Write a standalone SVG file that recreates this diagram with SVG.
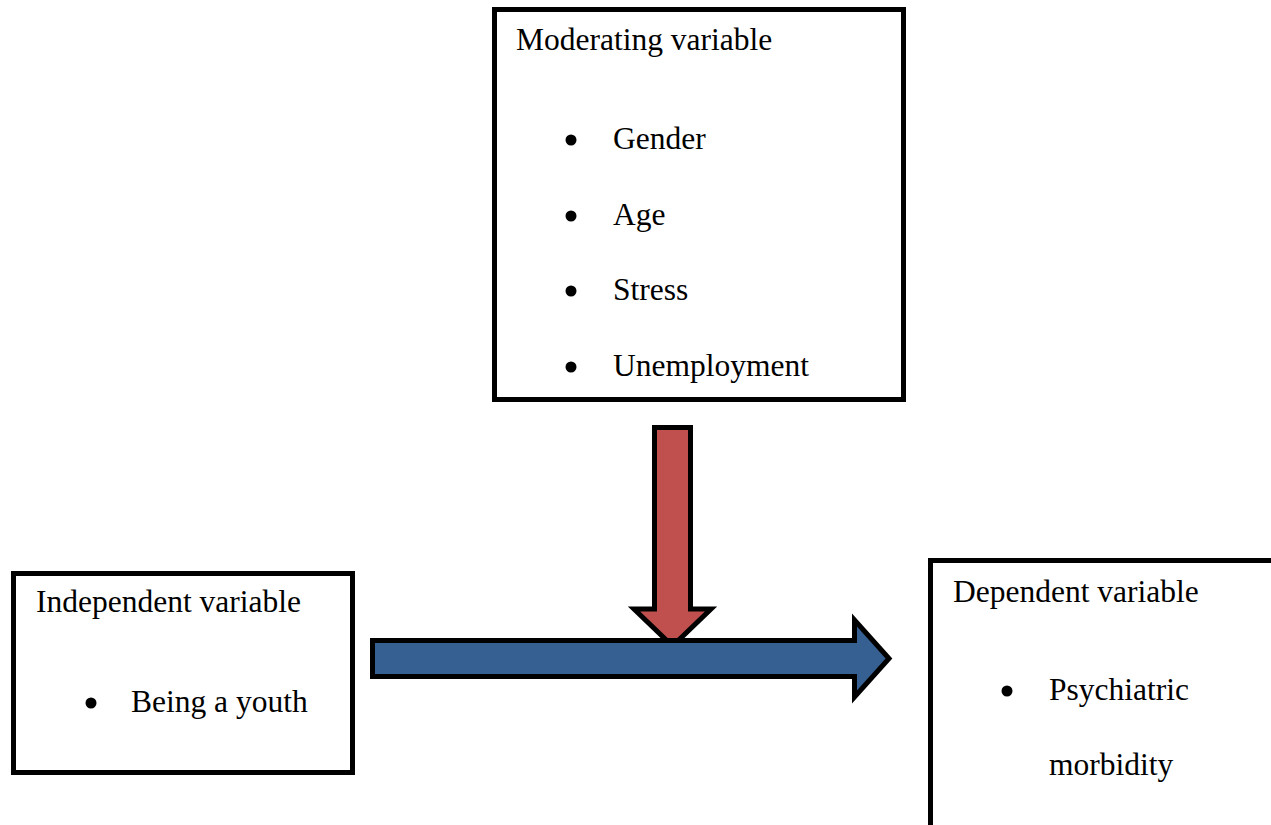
<svg xmlns="http://www.w3.org/2000/svg" width="1271" height="825" viewBox="0 0 1271 825">
<style>
.box{fill:#ffffff;stroke:#000000;stroke-width:5}
.t{font-family:"Liberation Serif","Times New Roman",serif;font-size:31.5px;fill:#000000}
.dot{fill:#000000}
.arr{stroke:#000000;stroke-width:5;stroke-linejoin:miter}
</style>
<rect width="1271" height="825" fill="#ffffff"/>
<g id="moderating">
<rect class="box" x="494.5" y="9.5" width="409" height="390"/>
<text class="t" x="516" y="50">Moderating variable</text>
<circle class="dot" cx="571" cy="140" r="5.5"/>
<text class="t" x="613" y="149">Gender</text>
<circle class="dot" cx="571" cy="216" r="5.5"/>
<text class="t" x="613" y="225">Age</text>
<circle class="dot" cx="571" cy="291" r="5.5"/>
<text class="t" x="613" y="300">Stress</text>
<circle class="dot" cx="571" cy="367" r="5.5"/>
<text class="t" x="613" y="376">Unemployment</text>
</g>
<g id="independent">
<rect class="box" x="13.5" y="573.5" width="339" height="199"/>
<text class="t" x="36" y="612">Independent variable</text>
<circle class="dot" cx="91" cy="703" r="5.5"/>
<text class="t" x="131" y="712">Being a youth</text>
</g>
<g id="dependent">
<rect class="box" x="930.5" y="560.5" width="345" height="280"/>
<text class="t" x="953" y="602">Dependent variable</text>
<circle class="dot" cx="1007" cy="691" r="5.5"/>
<text class="t" x="1049" y="700">Psychiatric</text>
<text class="t" x="1049" y="775">morbidity</text>
</g>
<g id="connectors">
<polygon class="arr" fill="#C0504D" points="654.5,427.5 690.5,427.5 690.5,609 711,609 672.5,646 634,609 654.5,609"/>
<polygon class="arr" fill="#376092" points="372.5,640.5 854.5,640.5 854.5,620 889,658.5 854.5,697 854.5,676.5 372.5,676.5"/>
</g>
</svg>
